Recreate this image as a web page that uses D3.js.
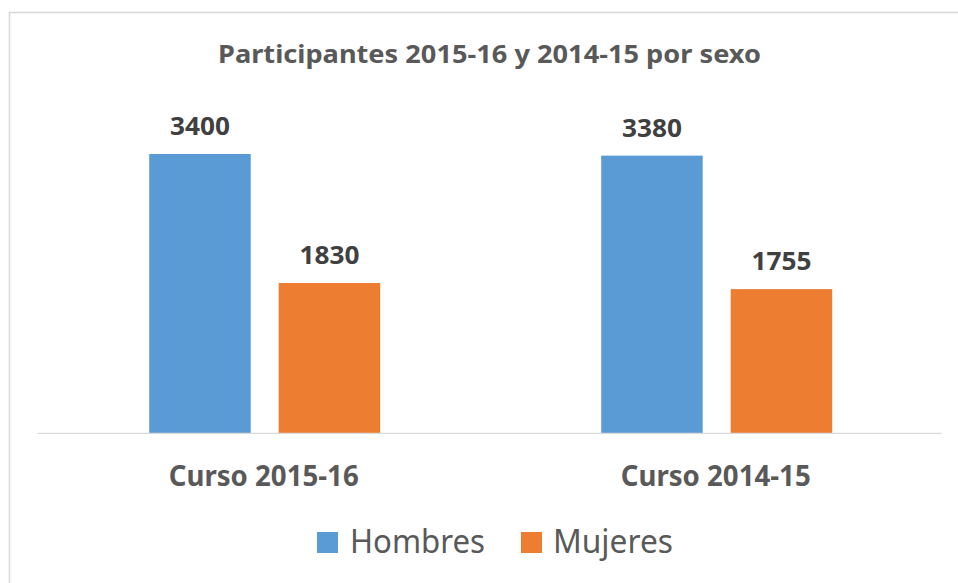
<!DOCTYPE html>
<html>
<head>
<meta charset="utf-8">
<script src="https://cdn.jsdelivr.net/npm/d3@7"></script>
<style>
  html, body { margin: 0; padding: 0; background: #fff; }
  svg { display: block; }
</style>
</head>
<body>
<svg id="chart" width="958" height="583"></svg>
<script>
// ---- data ----
const title = "Participantes 2015-16 y 2014-15 por sexo";
const categories = ["Curso 2015-16", "Curso 2014-15"];
const seriesNames = ["Hombres", "Mujeres"];
const hombres = [3400, 3380];
const mujeres = [1830, 1755];
const seriesColors = ["#5B9BD5", "#ED7D31"];

const seriesValues = [hombres, mujeres];
const rows = categories.map((c, i) => ({
  category: c,
  values: seriesNames.map((s, j) => ({ series: s, value: seriesValues[j][i], color: seriesColors[j] }))
}));

const svg = d3.select("#chart");
const FONT = "'Noto Sans', 'Open Sans', sans-serif";

// fit a text element to a target width
function fit(sel, w) {
  sel.each(function() {
    const len = this.getComputedTextLength();
    if (len > 0) {
      d3.select(this).attr("textLength", w).attr("lengthAdjust", "spacingAndGlyphs");
    }
  });
}

// frame (only top and left visible)
svg.append("rect")
  .attr("x", 9.5).attr("y", 12.5)
  .attr("width", 1000).attr("height", 700)
  .attr("fill", "#fff")
  .attr("stroke", "#D9D9D9").attr("stroke-width", 1.6);

const plotLeft = 37.7, plotRight = 941.7, baseY = 433.3;

const x0 = d3.scaleBand().domain(categories).range([plotLeft, plotRight]).padding(0);
const x1 = d3.scaleBand().domain(seriesNames).range([111.5, 342.5]).paddingInner(0.216).paddingOuter(0);
const y = d3.scaleLinear().domain([0, 4000]).range([baseY, baseY - 328.6]);

// title
svg.append("text")
  .attr("x", 489.5).attr("y", 63)
  .attr("text-anchor", "middle")
  .attr("font-family", FONT).attr("font-weight", "bold")
  .attr("font-size", 25).attr("fill", "#595959")
  .text(title)
  .call(fit, 543);

// bars
const groups = svg.append("g").selectAll("g")
  .data(rows).join("g")
  .attr("transform", d => `translate(${x0(d.category)},0)`);

groups.selectAll("rect")
  .data(d => d.values).join("rect")
  .attr("x", d => x1(d.series))
  .attr("y", d => y(d.value))
  .attr("width", x1.bandwidth())
  .attr("height", d => baseY - y(d.value))
  .attr("fill", d => d.color);

groups.selectAll("text.val")
  .data(d => d.values).join("text")
  .attr("class", "val")
  .attr("x", d => x1(d.series) + x1.bandwidth() / 2)
  .attr("y", d => y(d.value) - 19)
  .attr("text-anchor", "middle")
  .attr("font-family", FONT).attr("font-weight", "bold")
  .attr("font-size", 25).attr("fill", "#404040")
  .text(d => d.value)
  .call(fit, 60);

// axis
const xAxis = d3.axisBottom(x0).tickSize(0).tickPadding(0);
const ax = svg.append("g").attr("transform", `translate(0,${baseY})`).call(xAxis);
ax.select(".domain").attr("stroke", "#D9D9D9").attr("stroke-width", 1.3)
  .attr("d", `M${plotLeft},0H${plotRight}`);
ax.selectAll(".tick text")
  .attr("y", 52.7).attr("dy", 0)
  .attr("font-family", FONT).attr("font-weight", "bold")
  .attr("font-size", 29).attr("fill", "#595959")
  .call(fit, 190);

// legend
const legendItems = [
  { name: seriesNames[0], color: seriesColors[0], sx: 317, tx: 350, tw: 135 },
  { name: seriesNames[1], color: seriesColors[1], sx: 521, tx: 553, tw: 120 }
];
const lg = svg.append("g").selectAll("g").data(legendItems).join("g");
lg.append("rect")
  .attr("x", d => d.sx).attr("y", 532)
  .attr("width", 21).attr("height", 21)
  .attr("fill", d => d.color);
lg.append("text")
  .attr("x", d => d.tx).attr("y", 553)
  .attr("font-family", FONT)
  .attr("font-size", 32).attr("fill", "#595959")
  .text(d => d.name)
  .each(function(d) { d3.select(this).call(fit, d.tw); });
</script>
</body>
</html>
